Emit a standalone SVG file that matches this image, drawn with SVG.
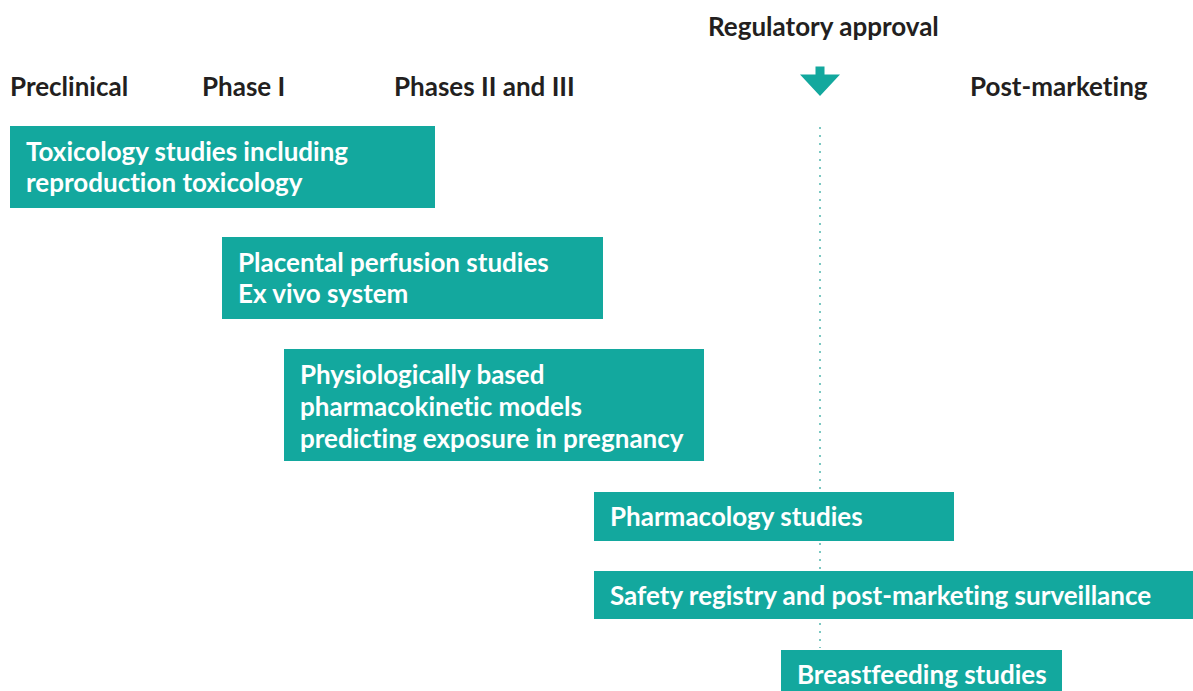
<svg xmlns="http://www.w3.org/2000/svg" width="1193" height="691" viewBox="0 0 1193 691">
<style>
.box{fill:#13a89e}
.bt{font-family:Lato,"Open Sans",sans-serif;font-weight:700;font-size:26px;fill:#ffffff;font-variant-ligatures:none}
.hd{font-family:Lato,"Open Sans",sans-serif;font-weight:700;font-size:26px;fill:#231f20;font-variant-ligatures:none}
.dot{stroke:#7cc8c2;stroke-width:2;stroke-dasharray:2 6;fill:none}
</style>
<rect width="1193" height="691" fill="#ffffff"/>
<g id="headers">
<text class="hd" x="708" y="36">Regulatory approval</text>
<text class="hd" x="10" y="96">Preclinical</text>
<text class="hd" x="202" y="96">Phase I</text>
<text class="hd" x="394" y="96">Phases II and III</text>
<text class="hd" x="970" y="96">Post-marketing</text>
</g>
<g id="connectors">
<line class="dot" x1="820" y1="127" x2="820" y2="648"/>
<path d="M815.5 66.5 H824.5 V74.5 H840 L820 96 L800 74.5 H815.5 Z" fill="#13a89e"/>
</g>
<g id="toxicology">
<rect class="box" x="10" y="126" width="425" height="82"/>
<text class="bt" x="26" y="161">Toxicology studies including</text>
<text class="bt" x="26" y="192">reproduction toxicology</text>
</g>
<g id="placental">
<rect class="box" x="222" y="237" width="381" height="82"/>
<text class="bt" x="238" y="272">Placental perfusion studies</text>
<text class="bt" x="238" y="303">Ex vivo system</text>
</g>
<g id="pbpk">
<rect class="box" x="284" y="349" width="420" height="112"/>
<text class="bt" x="300" y="384">Physiologically based</text>
<text class="bt" x="300" y="416">pharmacokinetic models</text>
<text class="bt" x="300" y="448">predicting exposure in pregnancy</text>
</g>
<g id="pharmacology">
<rect class="box" x="594" y="492" width="360" height="49"/>
<text class="bt" x="610" y="526">Pharmacology studies</text>
</g>
<g id="safety">
<rect class="box" x="594" y="571" width="599" height="48"/>
<text class="bt" x="610" y="605">Safety registry and post-marketing surveillance</text>
</g>
<g id="breastfeeding">
<rect class="box" x="781" y="650" width="281" height="41"/>
<text class="bt" x="797" y="684">Breastfeeding studies</text>
</g>
</svg>
